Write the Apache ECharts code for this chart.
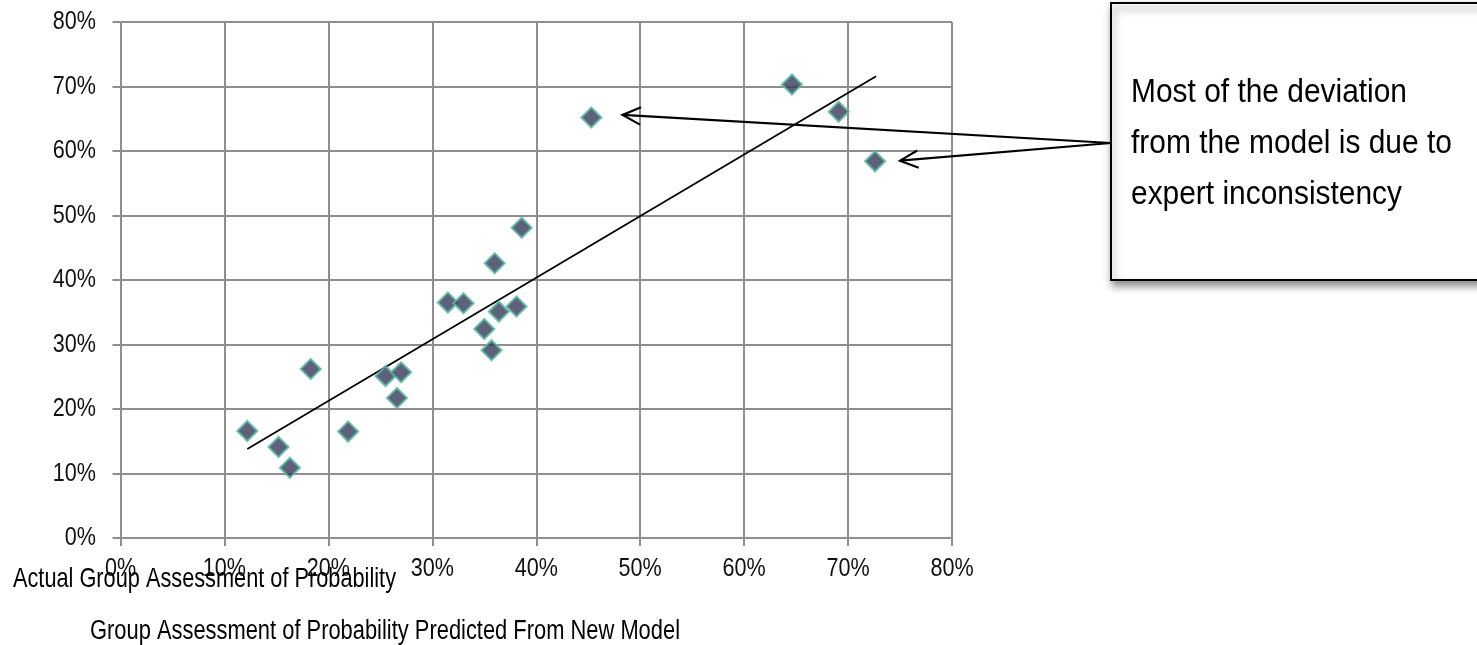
<!DOCTYPE html>
<html>
<head>
<meta charset="utf-8">
<script src="https://cdn.jsdelivr.net/npm/echarts@6/dist/echarts.min.js"></script>
<style>
  html, body { margin: 0; padding: 0; background: #fff; }
  #chart { width: 1477px; height: 645px; }
</style>
</head>
<body>
<div id="chart"></div>
<script>
// predicted (x) vs actual (y), in percent
var predicted = [12.2, 15.2, 16.3, 18.3, 21.9, 25.5, 26.6, 27.0, 31.5, 33.0, 35.0, 35.7, 36.4, 38.1, 36.0, 38.6, 45.3, 64.6, 69.1, 72.6];
var actual    = [16.6, 14.1, 10.9, 26.2, 16.5, 25.1, 21.7, 25.7, 36.5, 36.4, 32.4, 29.1, 35.1, 35.9, 42.6, 48.1, 65.2, 70.3, 66.1, 58.4];

// fitted line end points
var trendX = [12.2, 72.7];
var trendY = [13.8, 71.6];

// where the callout arrows point
var arrowTips = [[48.3, 65.6], [75.0, 58.5]];

var xTicks = [0, 10, 20, 30, 40, 50, 60, 70, 80];
var yTicks = [0, 10, 20, 30, 40, 50, 60, 70, 80];

var calloutLines = ['Most of the deviation', 'from the model is due to', 'expert inconsistency'];
var xTitle = 'Group Assessment of Probability Predicted From New Model';
var yTitle = 'Actual Group Assessment of Probability';

var sans = '"Liberation Sans", Arial, sans-serif';
var gridGray = '#8e8e8e';

// no condensed font installed: measure and squeeze horizontally
var measureCtx = document.createElement('canvas').getContext('2d');
function squeeze(text, size, width) {
    measureCtx.font = size + 'px "Liberation Sans", Arial, sans-serif';
    return width / measureCtx.measureText(text).width;
}

var points = predicted.map(function (x, i) { return [x, actual[i]]; });
var trend = trendX.map(function (x, i) { return [x, trendY[i]]; });

var chart = echarts.init(document.getElementById('chart'));

function axisStyle(ticks) {
    return {
        type: 'value',
        min: ticks[0],
        max: ticks[ticks.length - 1],
        interval: ticks[1] - ticks[0],
        axisLine: { show: true, lineStyle: { color: gridGray, width: 2 } },
        axisTick: { show: true, length: 8, lineStyle: { color: gridGray, width: 2 } },
        splitLine: { show: true, lineStyle: { color: gridGray, width: 2 } },
        axisLabel: { show: false }
    };
}

chart.setOption({
    animation: false,
    backgroundColor: '#fff',
    grid: { left: 120.5, right: 525, top: 22, bottom: 107, containLabel: false },
    xAxis: axisStyle(xTicks),
    yAxis: axisStyle(yTicks),
    series: [
        {
            type: 'line',
            data: trend,
            symbol: 'none',
            lineStyle: { color: '#000', width: 1.8 },
            z: 3
        },
        {
            type: 'scatter',
            data: points,
            symbol: 'diamond',
            symbolSize: 20,
            itemStyle: { color: '#353959', borderColor: '#5cb8a3', borderWidth: 2.2 },
            z: 4
        }
    ]
});

var graphics = [];

// tick labels, placed through the axes
var tickScale = 0.83;
xTicks.forEach(function (v) {
    var p = chart.convertToPixel({ xAxisIndex: 0, yAxisIndex: 0 }, [v, 0]);
    graphics.push({
        type: 'text', z: 5, x: p[0], y: 569, scaleX: tickScale,
        style: { text: v + '%', font: '26px ' + sans, fill: '#111', textAlign: 'center', textVerticalAlign: 'middle' }
    });
});
yTicks.forEach(function (v) {
    var p = chart.convertToPixel({ xAxisIndex: 0, yAxisIndex: 0 }, [0, v]);
    graphics.push({
        type: 'text', z: 5, x: 96, y: p[1], scaleX: tickScale,
        style: { text: v + '%', font: '26px ' + sans, fill: '#111', textAlign: 'right', textVerticalAlign: 'middle' }
    });
});

// axis titles
graphics.push({
    type: 'text', z: 6, x: 13, y: 579, scaleX: squeeze(yTitle, 28, 383),
    style: { text: yTitle, font: '28px ' + sans, fill: '#000', textVerticalAlign: 'middle' }
});
graphics.push({
    type: 'text', z: 6, x: 90, y: 632, scaleX: squeeze(xTitle, 27, 590),
    style: { text: xTitle, font: '27px ' + sans, fill: '#000', textVerticalAlign: 'middle' }
});

// callout box and arrows
var boxLeft = 1111, boxTop = 3, boxBottom = 280;
var anchor = [boxLeft, 143];

arrowTips.forEach(function (tip) {
    var p = chart.convertToPixel({ xAxisIndex: 0, yAxisIndex: 0 }, tip);
    var dx = anchor[0] - p[0], dy = anchor[1] - p[1];
    var len = Math.sqrt(dx * dx + dy * dy);
    var ux = dx / len, uy = dy / len;
    var headLen = 20, spread = 0.45;
    var c = Math.cos(spread), s = Math.sin(spread);
    var a1 = [p[0] + headLen * (ux * c - uy * s), p[1] + headLen * (uy * c + ux * s)];
    var a2 = [p[0] + headLen * (ux * c + uy * s), p[1] + headLen * (uy * c - ux * s)];
    graphics.push({
        type: 'line', z: 10,
        shape: { x1: p[0], y1: p[1], x2: anchor[0], y2: anchor[1] },
        style: { stroke: '#000', lineWidth: 2.2 }
    });
    graphics.push({
        type: 'polyline', z: 10,
        shape: { points: [a1, p, a2] },
        style: { stroke: '#000', lineWidth: 2.2, fill: null }
    });
});

graphics.push({
    type: 'rect', z: 11,
    shape: { x: boxLeft, y: boxTop, width: 1477 - boxLeft + 10, height: boxBottom - boxTop },
    style: {
        fill: '#fff', stroke: '#000', lineWidth: 2,
        shadowBlur: 8, shadowOffsetX: 2, shadowOffsetY: 5, shadowColor: 'rgba(0,0,0,0.45)'
    }
});

var calloutScale = squeeze(calloutLines[0], 34, 276);
calloutLines.forEach(function (line, i) {
    graphics.push({
        type: 'text', z: 12,
        x: 1131, y: 93 + i * 51, scaleX: calloutScale,
        style: { text: line, font: '34px ' + sans, fill: '#000', textVerticalAlign: 'middle' }
    });
});

chart.setOption({ graphic: graphics });
</script>
</body>
</html>
